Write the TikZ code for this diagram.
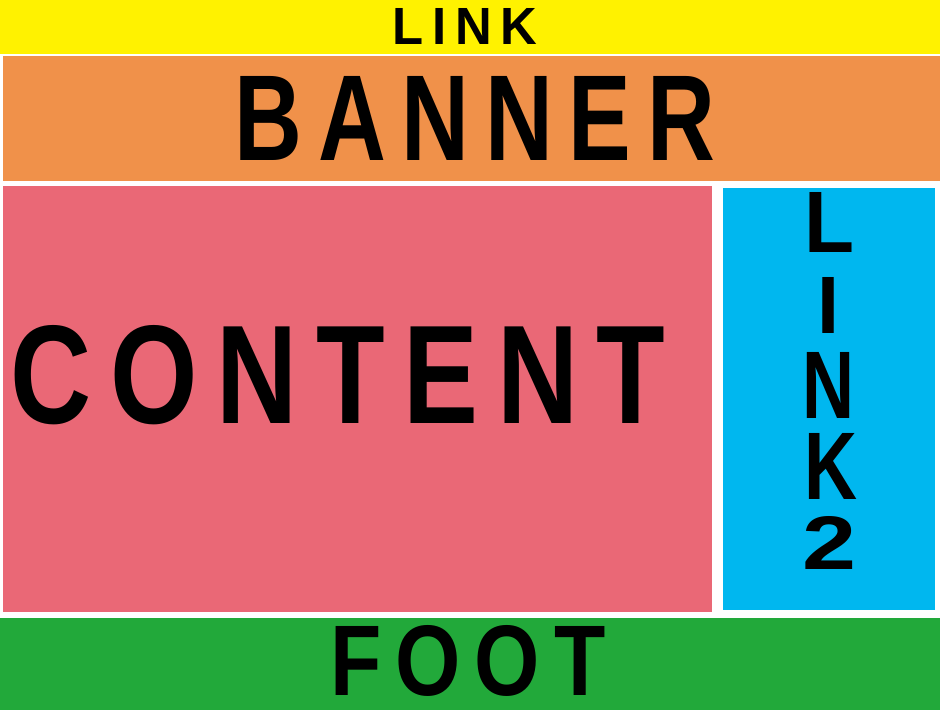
\documentclass[tikz,border=0pt]{standalone}
\usepackage{fontspec}
\setmainfont{Liberation Sans}
\definecolor{cyellow}{HTML}{FFF200}
\definecolor{corange}{HTML}{F0914A}
\definecolor{cpink}{HTML}{EA6876}
\definecolor{cblue}{HTML}{00B7EF}
\definecolor{cgreen}{HTML}{22A93A}
\tikzset{
  panel/.style={fill=#1, draw=none},
  lbl/.style={inner sep=0pt, text=black},
}
\newcommand{\fitbox}[3]{\resizebox{#1pt}{#2pt}{\bfseries #3}}
\begin{document}
\begin{tikzpicture}[x=1pt,y=-1pt]
\useasboundingbox (0,0) rectangle (940,712);
\fill[white] (0,0) rectangle (940,712);
% panels
\fill[panel=cyellow] (0,0) rectangle (940,54);
\fill[panel=corange] (3,56) rectangle (940,181);
\fill[panel=cpink] (3,186) rectangle (712,612);
\fill[panel=cblue] (723,188) rectangle (935,610);
\fill[panel=cgreen] (0,618) rectangle (940,710);
% labels
\node[lbl] (link) at (465,26) {\fitbox{144}{36}{L\,I\,N\,K}};
\node[lbl] (banner) at (475,118) {\fitbox{480}{84}{B\,A\,N\,N\,E\,R}};
\node[lbl] (content) at (338,375) {\fitbox{655}{98}{C\,O\,N\,T\,E\,N\,T}};
\node[lbl] (foot) at (468,661) {\fitbox{275}{70}{F\,O\,O\,T}};
\node[lbl] (l2a) at (830,222) {\fitbox{50}{60}{L}};
\node[lbl] (l2b) at (828,305) {\fitbox{22}{56}{I}};
\node[lbl] (l2c) at (829,385) {\fitbox{52}{66}{N}};
\node[lbl] (l2d) at (831,466) {\fitbox{53}{66}{K}};
\node[lbl] (l2e) at (830,543) {\fitbox{54}{53}{2}};
\end{tikzpicture}
\end{document}
